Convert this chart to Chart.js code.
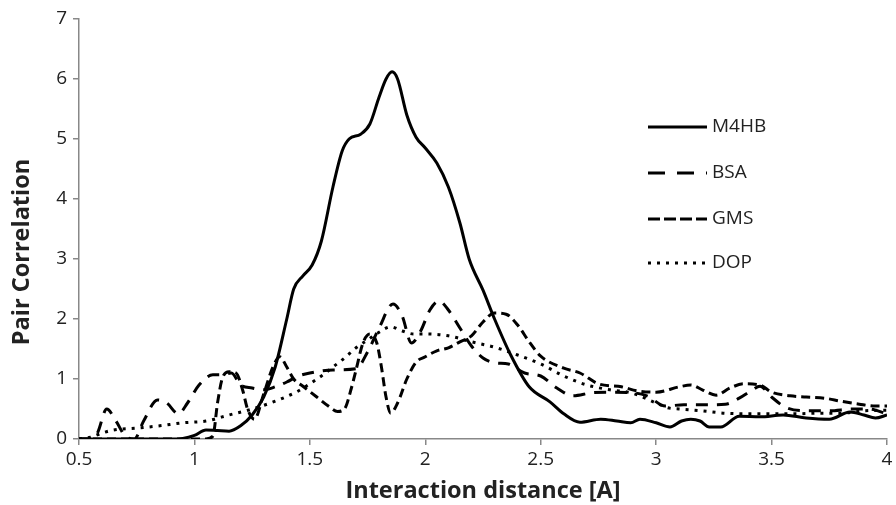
<!DOCTYPE html>
<html>
<head>
<meta charset="utf-8">
<script src="https://cdn.jsdelivr.net/npm/chart.js@4.4.0/dist/chart.umd.min.js"></script>
<style>
html, body { margin:0; padding:0; background:#fff; }
#wrap { width:896px; height:505px; }
</style>
</head>
<body>
<div id="wrap"><canvas id="graph0" width="896" height="505"></canvas></div>
<script>
// series labels
const SERIES = ["M4HB", "BSA", "GMS", "DOP"];

// M4HB (solid)
const x_m4hb = [0.5,0.6,0.7,0.8,0.9,0.95,1.0,1.05,1.1,1.15,1.2,1.25,1.3,1.35,1.4,1.43,1.47,1.51,1.55,1.6,1.64,1.67,1.72,1.76,1.8,1.83,1.856,1.88,1.92,1.96,2.0,2.05,2.1,2.15,2.19,2.25,2.3,2.37,2.45,2.54,2.6,2.67,2.76,2.83,2.89,2.93,3.0,3.06,3.11,3.15,3.19,3.23,3.28,3.36,3.45,3.55,3.65,3.75,3.84,3.9,3.95,4.0];
const y_m4hb = [0,0,0,0,0,0.01,0.06,0.15,0.14,0.13,0.22,0.4,0.7,1.2,2.0,2.5,2.72,2.9,3.3,4.2,4.8,5.0,5.08,5.25,5.7,6.0,6.12,6.0,5.4,5.03,4.85,4.6,4.2,3.6,3.0,2.48,2.0,1.4,0.87,0.62,0.42,0.28,0.33,0.3,0.27,0.33,0.27,0.2,0.3,0.33,0.3,0.2,0.2,0.38,0.37,0.4,0.35,0.33,0.45,0.4,0.35,0.4];

// BSA (long dash)
const x_bsa = [0.5,0.55,0.58,0.62,0.66,0.7,0.74,0.78,0.84,0.88,0.93,0.97,1.02,1.08,1.12,1.16,1.2,1.25,1.3,1.35,1.4,1.45,1.5,1.6,1.7,1.75,1.8,1.86,1.9,1.94,1.98,2.02,2.06,2.1,2.15,2.2,2.25,2.3,2.36,2.43,2.5,2.57,2.64,2.72,2.8,2.9,2.96,3.04,3.12,3.2,3.3,3.36,3.41,3.45,3.5,3.56,3.65,3.75,3.85,3.92,4.0];
const y_bsa = [0,0,0.1,0.5,0.3,0.05,0,0.3,0.65,0.6,0.42,0.6,0.9,1.07,1.07,1.1,0.9,0.85,0.82,0.87,0.95,1.05,1.1,1.15,1.17,1.45,1.85,2.25,2.05,1.6,1.8,2.15,2.3,2.15,1.85,1.55,1.35,1.27,1.25,1.1,1.05,0.85,0.72,0.77,0.78,0.77,0.72,0.55,0.57,0.57,0.58,0.68,0.8,0.88,0.7,0.53,0.47,0.47,0.5,0.5,0.42];

// GMS (short dash)
const x_gms = [0.5,0.8,1.05,1.08,1.1,1.12,1.15,1.18,1.21,1.23,1.26,1.3,1.34,1.37,1.4,1.43,1.47,1.53,1.58,1.62,1.65,1.68,1.7,1.73,1.76,1.79,1.81,1.83,1.85,1.88,1.92,1.96,2.0,2.05,2.1,2.15,2.2,2.25,2.3,2.35,2.4,2.45,2.5,2.6,2.67,2.75,2.85,2.92,3.0,3.1,3.15,3.2,3.26,3.32,3.38,3.45,3.5,3.58,3.65,3.73,3.8,3.88,3.95,4.0];
const y_gms = [0,0,0,0.05,0.6,1.0,1.12,1.1,0.8,0.5,0.33,0.75,1.2,1.37,1.2,1.0,0.88,0.7,0.55,0.46,0.5,0.85,1.15,1.6,1.75,1.6,1.2,0.7,0.43,0.6,1.0,1.28,1.37,1.47,1.52,1.62,1.72,1.95,2.1,2.08,1.9,1.62,1.38,1.18,1.1,0.92,0.87,0.8,0.78,0.87,0.9,0.82,0.73,0.85,0.92,0.9,0.78,0.72,0.7,0.68,0.63,0.58,0.55,0.55];

// DOP (dotted)
const x_dop = [0.5,0.55,0.6,0.65,0.75,0.85,0.95,1.05,1.15,1.25,1.35,1.45,1.5,1.55,1.6,1.65,1.7,1.75,1.8,1.85,1.9,1.95,2.0,2.1,2.2,2.3,2.4,2.5,2.6,2.7,2.8,2.9,3.0,3.05,3.1,3.2,3.3,3.4,3.5,3.6,3.7,3.8,3.9,4.0];
const y_dop = [0,0.03,0.1,0.15,0.18,0.22,0.27,0.3,0.4,0.5,0.63,0.8,0.92,1.05,1.2,1.35,1.52,1.65,1.78,1.87,1.8,1.75,1.75,1.72,1.62,1.53,1.4,1.25,1.05,0.9,0.82,0.76,0.6,0.52,0.5,0.47,0.43,0.42,0.42,0.42,0.43,0.43,0.47,0.48];

// x tick labels
const X_TICKS = [0.5,1,1.5,2,2.5,3,3.5,4];

function make_points(xs, ys){
    let pts = [];
    for (let i=0;i<xs.length;i++){
        pts.push({x: xs[i], y: ys[i]});
    }
    return pts;
}

//凡例は右側に自前で描く
const LEGEND_Y = [127, 173, 219, 263];
const side_legend = {
    id: "side_legend",
    afterDraw(chart){
        let ctx = chart.ctx;
        ctx.save();
        chart.data.datasets.forEach(function(ds, i){
            let y = LEGEND_Y[i];
            ctx.beginPath();
            ctx.setLineDash(ds.legendDash);
            ctx.lineWidth = ds.borderWidth;
            ctx.strokeStyle = ds.borderColor;
            ctx.moveTo(648, y);
            ctx.lineTo(707, y);
            ctx.stroke();
            ctx.setLineDash([]);
            ctx.fillStyle = "#222";
            ctx.font = "19px 'Open Sans'";
            ctx.textBaseline = "middle";
            ctx.textAlign = "left";
            ctx.fillText(ds.label, 712, y);
        });

        //縦軸タイトル
        ctx.translate(22, 252);
        ctx.rotate(-Math.PI/2);
        ctx.font = "bold 23.5px 'Open Sans'";
        ctx.textAlign = "center";
        ctx.textBaseline = "middle";
        ctx.fillStyle = "#222";
        ctx.fillText("Pair Correlation", 0, 0);
        ctx.restore();
    }
};

let ctx0 = document.getElementById("graph0");

let CHART0 = new Chart(ctx0, {
    type: "line",
    data: {
        datasets: [
            {
                label: SERIES[0],
                data: make_points(x_m4hb, y_m4hb),
                borderColor: "#000",
                borderWidth: 3,
                borderDash: [],
                legendDash: [],
            },
            {
                label: SERIES[1],
                data: make_points(x_bsa, y_bsa),
                borderColor: "#000",
                borderWidth: 3,
                borderDash: [12, 9],
                legendDash: [17, 12],
            },
            {
                label: SERIES[2],
                data: make_points(x_gms, y_gms),
                borderColor: "#000",
                borderWidth: 3,
                borderDash: [9, 5],
                legendDash: [12, 4],
            },
            {
                label: SERIES[3],
                data: make_points(x_dop, y_dop),
                borderColor: "#000",
                borderWidth: 3,
                borderDash: [3, 6],
                legendDash: [3, 6],
            },
        ],
    },
    options: {
        responsive: false,
        animation: false,
        devicePixelRatio: 1,
        layout: { padding: { left: 0, right: 9, top: 19, bottom: 0 } },
        elements: {
            point: { radius: 0 },
            line: { cubicInterpolationMode: "monotone" },
        },
        plugins: {
            legend: { display: false },
            tooltip: { enabled: false },
        },
        scales: {
            x: {
                type: "linear",
                min: 0.5,
                max: 4,
                afterBuildTicks: function(scale){
                    scale.ticks = X_TICKS.map(function(v){ return {value: v}; });
                },
                afterFit: function(scale){ scale.height = 66; },
                grid: { drawOnChartArea: false, drawTicks: true, tickLength: 6, color: "#888", lineWidth: 1.5 },
                border: { display: true, color: "#888", width: 1.5 },
                ticks: {
                    font: { family: "'Open Sans'", size: 19 },
                    color: "#222",
                    padding: 3,
                    maxRotation: 0,
                    callback: function(v){ return String(v); },
                },
                title: {
                    display: true,
                    text: "Interaction distance [A]",
                    font: { family: "'Open Sans'", size: 23.5, weight: "bold" },
                    color: "#222",
                    padding: { top: 0, bottom: 0 },
                },
            },
            y: {
                min: 0,
                max: 7,
                afterFit: function(scale){ scale.width = 79; },
                grid: { drawOnChartArea: false, drawTicks: true, tickLength: 6, color: "#888", lineWidth: 1.5 },
                border: { display: true, color: "#888", width: 1.5 },
                ticks: {
                    stepSize: 1,
                    font: { family: "'Open Sans'", size: 19 },
                    color: "#222",
                    padding: 6,
                },
            },
        },
    },
    plugins: [side_legend],
});
</script>
</body>
</html>
